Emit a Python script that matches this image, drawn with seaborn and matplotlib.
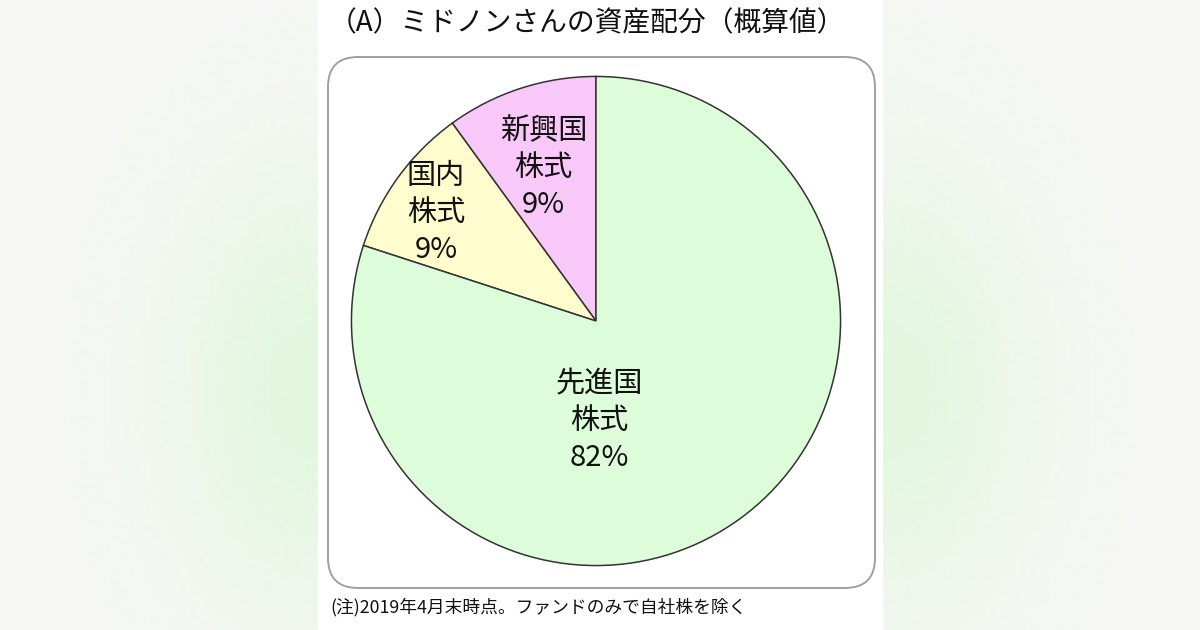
import numpy as np
import matplotlib
matplotlib.use("Agg")
import matplotlib.pyplot as plt
import seaborn as sns
from matplotlib.patches import FancyBboxPatch, Rectangle

# data (counter-clockwise from 12 o'clock)
categories = ["新興国\n株式", "国内\n株式", "先進国\n株式"]
shares = [10, 10, 80]          # slice sizes as drawn
share_labels = ["9%", "9%", "82%"]
colors = ["#f8c9f8", "#fffccd", "#ddfcd9"]

title = "（A）ミドノンさんの資産配分（概算値）"
note = "(注)2019年4月末時点。ファンドのみで自社株を除く"

sns.set_theme(style="white")
plt.rcParams["font.family"] = ["Noto Sans CJK JP", "DejaVu Sans"]

W, H = 1200, 630
fig = plt.figure(figsize=(W / 100, H / 100), dpi=100)

# soft blurred background on both sides
bg = fig.add_axes([0, 0, 1, 1])
xx, yy = np.meshgrid(np.linspace(0, 1, 240), np.linspace(0, 1, 126))
dist = np.abs(xx - 0.5)
tint = np.exp(-((dist - 0.24) / 0.12) ** 2) * np.exp(-((yy - 0.62) / 0.35) ** 2)
base = np.array([247, 247, 245]) / 255
green = np.array([226, 247, 222]) / 255
img = base[None, None, :] * (1 - tint[..., None]) + green[None, None, :] * tint[..., None]
bg.imshow(img, extent=[0, 1, 0, 1], aspect="auto", origin="upper")
bg.add_patch(Rectangle((318 / W, 0), (882 - 318) / W, 1, color="white", zorder=2))
bg.add_patch(FancyBboxPatch((328 / W, (H - 588) / H), (875 - 328) / W, (588 - 57) / H,
                            boxstyle="round,pad=0,rounding_size=0.025",
                            facecolor="white", edgecolor="#a0a0a0", linewidth=1.4,
                            zorder=3, mutation_aspect=W / H))
bg.set_xlim(0, 1)
bg.set_ylim(0, 1)
bg.axis("off")

fig.text(587 / W, 1 - 23 / H, title, ha="center", va="center", fontsize=20,
         color="#111111")
fig.text(330 / W, 1 - 607 / H, note, ha="left", va="center", fontsize=12.8, color="#111111")

# pie
cx, cy, r = 596, 321, 247
ax = fig.add_axes([(cx - r) / W, (H - cy - r) / H, 2 * r / W, 2 * r / H])
ax.pie(shares, colors=colors, startangle=90, counterclock=True, radius=1,
       wedgeprops=dict(edgecolor="#333333", linewidth=1.1))
ax.set_xlim(-1.01, 1.01)
ax.set_ylim(-1.01, 1.01)
ax.set_aspect("equal")
ax.axis("off")

label_angle = [109, 146, -88]
label_r = [0.66, 0.79, 0.41]
for name, pct, a, rr in zip(categories, share_labels, label_angle, label_r):
    t = np.deg2rad(a)
    ax.text(rr * np.cos(t), rr * np.sin(t), name + "\n" + pct, ha="center", va="center",
            fontsize=21, linespacing=1.3, color="#111111")

fig.savefig("out.png", dpi=100)
